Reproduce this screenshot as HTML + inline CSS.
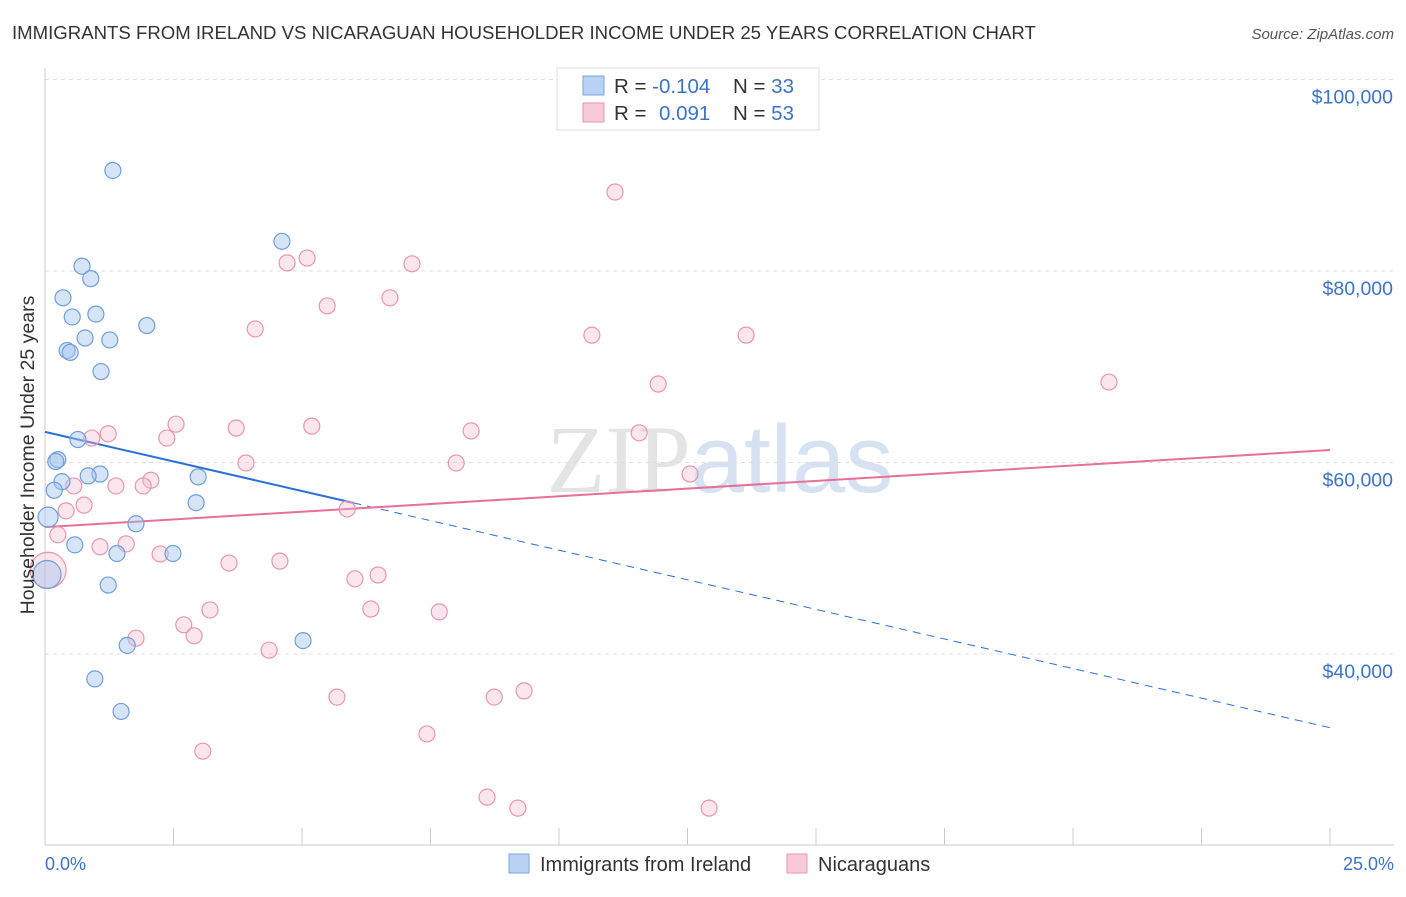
<!DOCTYPE html>
<html><head><meta charset="utf-8"><style>
body{margin:0;background:#fff;font-family:"Liberation Sans",sans-serif;}
svg text{font-family:"Liberation Sans",sans-serif;}
</style></head><body>
<svg id="chart" width="1406" height="892" xmlns="http://www.w3.org/2000/svg">
<text x="12" y="39" font-size="18.6" fill="#333">IMMIGRANTS FROM IRELAND VS NICARAGUAN HOUSEHOLDER INCOME UNDER 25 YEARS CORRELATION CHART</text>
<text x="1394" y="39" font-size="15" fill="#555" font-style="italic" text-anchor="end">Source: ZipAtlas.com</text>
<text x="720" y="492" font-size="96" fill="#e4e4e4" text-anchor="middle" font-family="Liberation Serif"><tspan font-family="Liberation Serif">ZIP</tspan><tspan fill="#d6e2f2" font-family="Liberation Sans">atlas</tspan></text>
<g id="grid"></g>
<g id="axes"></g>
<g id="lines"></g>
<g id="pts"></g>
<text transform="translate(34,455) rotate(-90)" font-size="19.5" fill="#333" text-anchor="middle">Householder Income Under 25 years</text>
<text x="45" y="870" font-size="18" fill="#3b73c8">0.0%</text>
<text x="1394" y="870" font-size="18" fill="#3b73c8" text-anchor="end">25.0%</text>
<g>
<rect x="557" y="68" width="262" height="62" fill="#fff" stroke="#ddd"/>
<rect x="583" y="76" width="21" height="19" fill="#b9d2f4" stroke="#7aa6de"/>
<rect x="583" y="103" width="21" height="19" fill="#f8c9d7" stroke="#e995b2"/>
<text x="614" y="93" font-size="20.5" fill="#333">R = <tspan fill="#3b73c8">-0.104</tspan><tspan x="733">N = </tspan><tspan fill="#3b73c8">33</tspan></text>
<text x="614" y="120" font-size="20.5" fill="#333">R = <tspan x="659" fill="#3b73c8">0.091</tspan><tspan x="733">N = </tspan><tspan fill="#3b73c8">53</tspan></text>
</g>
<g>
<rect x="509" y="854" width="20" height="19" fill="#b9d2f4" stroke="#7aa6de"/>
<text x="540" y="871" font-size="20" fill="#333">Immigrants from Ireland</text>
<rect x="787" y="854" width="20" height="19" fill="#f8c9d7" stroke="#e995b2"/>
<text x="818" y="871" font-size="20" fill="#333">Nicaraguans</text>
</g>
</svg>
<script>
const yTicks=[40000,60000,80000,100000];
const yTickLabels=["$40,000","$60,000","$80,000","$100,000"];
const blueX=[1.32,4.61,0.72,0.89,0.35,0.53,0.99,0.78,1.26,1.98,0.43,0.49,1.09,0.64,0.25,0.21,1.07,0.84,0.33,0.18,2.98,2.94,0.06,1.77,0.58,1.40,2.49,1.23,0.04,1.60,5.02,0.97,1.48];
const blueY=[90500,83100,80500,79200,77200,75200,75500,73000,72800,74300,71700,71500,69500,62400,60300,60100,58800,58600,58000,57100,58500,55800,54300,53600,51400,50500,50500,47200,48300,40900,41400,37400,34000];
const blueR=[8,8,8,8,8,8,8,8,8,8,8,8,8,8,8,8,8,8,8,8,8,8,10,8,8,8,8,8,14,8,8,8,8];
const pinkX=[11.09,5.10,4.71,7.14,6.71,5.49,4.09,10.64,13.64,20.70,11.93,2.55,5.19,3.72,8.29,11.56,1.23,2.37,0.91,3.91,8.00,12.55,2.06,1.38,1.91,0.56,0.76,0.41,5.88,0.25,1.58,1.07,2.24,3.58,4.57,6.48,6.03,6.34,3.21,7.67,2.70,2.90,1.77,4.36,5.68,8.74,9.32,3.07,7.43,8.60,9.20,12.92,0.06];
const pinkY=[88250,81350,80850,80750,77200,76350,73950,73300,73300,68400,68200,64000,63800,63600,63300,63100,63000,62550,62550,59950,59950,58800,58150,57550,57550,57550,55550,54950,55150,52450,51500,51200,50450,49500,49700,48250,47850,44700,44600,44400,43050,41900,41650,40400,35500,35500,36150,29850,31650,25050,23900,23900,48750];
const blueTrend=[63200,32300];
const pinkTrend=[53250,61300];
const X0=45,X1=1330,xs=v=>X0+(v/25)*(X1-X0);
const ys=v=>79.5+(100000-v)/20000*191.5;
const NS="http://www.w3.org/2000/svg";
function mk(t,a,p){const e=document.createElementNS(NS,t);for(const k in a)e.setAttribute(k,a[k]);document.getElementById(p).appendChild(e);return e;}
yTicks.forEach((v,i)=>{
 const l=mk('line',{x1:45,x2:1394,y1:ys(v),y2:ys(v),stroke:'#ddd','stroke-dasharray':'4,4'},'grid');
 
 
 const t=mk('text',{x:1393,y:ys(v)+24,'font-size':19.5,fill:'#3b73c8','text-anchor':'end'},'grid');
 t.textContent=yTickLabels[i];
 
 
});
const ax=mk('line',{x1:45,x2:45,y1:68,y2:845,stroke:'#ccc'},'axes');


const bx=mk('line',{x1:45,x2:1394,y1:845,y2:845,stroke:'#ccc'},'axes');


for(let i=0;i<=10;i++){const t=mk('line',{x1:xs(i*2.5),x2:xs(i*2.5),y1:828,y2:845,stroke:'#ccc'},'axes');
 
 }
function drawPts(X,Y,R,fill,stroke,name){X.forEach((x,i)=>{const c=mk('circle',{cx:xs(x),cy:ys(Y[i]),r:R?R[i]:8,fill:fill,stroke:stroke,'stroke-width':1.2},'pts');
 
 });}
drawPts(pinkX,pinkY,pinkX.map((x,i)=>i==pinkX.length-1?18:8),'rgba(244,184,204,0.35)','#e995b2','nicaraguan-point');
drawPts(blueX,blueY,blueR,'rgba(164,196,240,0.45)','#6f9edb','ireland-point');
const bAt=x=>blueTrend[0]+(blueTrend[1]-blueTrend[0])*x/25;
const b1=mk('line',{x1:xs(0),y1:ys(bAt(0)),x2:xs(6),y2:ys(bAt(6)),stroke:'#2a6fd6','stroke-width':2},'lines');


const b2=mk('line',{x1:xs(6),y1:ys(bAt(6)),x2:xs(25),y2:ys(bAt(25)),stroke:'#2a6fd6','stroke-width':1,'stroke-dasharray':'8,6'},'lines');


const p1=mk('line',{x1:xs(0),y1:ys(pinkTrend[0]),x2:xs(25),y2:ys(pinkTrend[1]),stroke:'#e76f9a','stroke-width':2},'lines');


</script>
</body></html>
